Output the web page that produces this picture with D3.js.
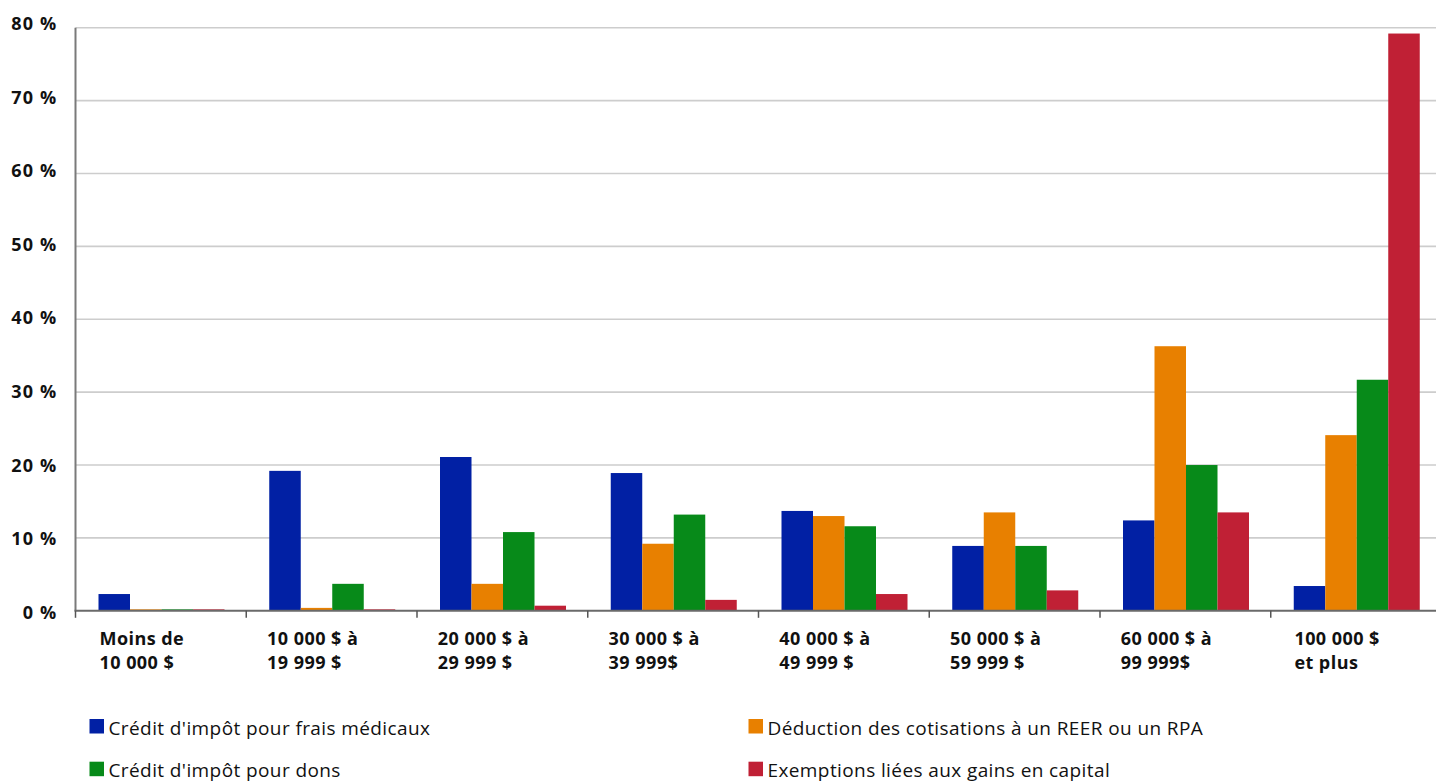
<!DOCTYPE html>
<html>
<head>
<meta charset="utf-8">
<script src="https://cdn.jsdelivr.net/npm/d3@7"></script>
<style>
  body { margin: 0; background: #ffffff; }
  svg { display: block; }
  text { font-family: "Open Sans", "Noto Sans", sans-serif; fill: #111111; }
</style>
</head>
<body>
<svg id="chart" width="1436" height="781"></svg>
<script>
// Income brackets (each label split on two lines)
const categories = [
  ["Moins de", "10 000 $"],
  ["10 000 $ à", "19 999 $"],
  ["20 000 $ à", "29 999 $"],
  ["30 000 $ à", "39 999$"],
  ["40 000 $ à", "49 999 $"],
  ["50 000 $ à", "59 999 $"],
  ["60 000 $ à", "99 999$"],
  ["100 000 $", "et plus"]
];

// Series names
const seriesNames = [
  "Crédit d'impôt pour frais médicaux",
  "Déduction des cotisations à un REER ou un RPA",
  "Crédit d'impôt pour dons",
  "Exemptions liées aux gains en capital"
];

// Share of each tax measure by income bracket (%)
const medicalCredit   = [2.3, 19.2, 21.1, 18.9, 13.7, 8.9, 12.4, 3.4];
const rrspDeduction   = [0.2, 0.4, 3.7, 9.2, 13.0, 13.5, 36.3, 24.1];
const donationCredit  = [0.2, 3.7, 10.8, 13.2, 11.6, 8.9, 20.0, 31.7];
const capitalGainsEx  = [0.2, 0.2, 0.7, 1.5, 2.3, 2.8, 13.5, 79.2];

const yTicks = [0, 10, 20, 30, 40, 50, 60, 70, 80];

const seriesColors = ["#0120a4", "#e88000", "#078a19", "#c02035"];

const seriesValues = [medicalCredit, rrspDeduction, donationCredit, capitalGainsEx];
const catKeys = categories.map(c => c.join(" "));

const rows = catKeys.map((k, i) => ({
  key: k,
  lines: categories[i],
  values: seriesNames.map((s, j) => ({ series: s, value: seriesValues[j][i], color: seriesColors[j] }))
}));

const W = 1436, H = 781;
const plotLeft = 75.5, plotRight = 1441.5, plotTop = 27.7, plotBottom = 610.8;

const svg = d3.select("#chart");

const x0 = d3.scaleBand().domain(catKeys).range([plotLeft, plotRight]).paddingInner(0).paddingOuter(0);
const x1 = d3.scaleBand().domain(seriesNames).range([23, 149]).padding(0);
const y = d3.scaleLinear().domain([0, 80]).range([plotBottom, plotTop]);
// tick labels sit on a slightly taller scale than the gridlines
const yLabel = d3.scaleLinear().domain([0, 80]).range([612.3, 23.3]);

// Horizontal gridlines
svg.append("g")
  .selectAll("line")
  .data(yTicks.filter(d => d > 0))
  .join("line")
  .attr("x1", plotLeft)
  .attr("x2", W)
  .attr("y1", d => y(d))
  .attr("y2", d => y(d))
  .attr("stroke", "#cdcdcd")
  .attr("stroke-width", 1.6);

// Bars
const groups = svg.append("g")
  .selectAll("g")
  .data(rows)
  .join("g")
  .attr("transform", d => `translate(${x0(d.key)},0)`);

groups.selectAll("rect")
  .data(d => d.values)
  .join("rect")
  .attr("x", d => x1(d.series))
  .attr("width", x1.bandwidth())
  .attr("y", d => y(d.value))
  .attr("height", d => y(0) - y(d.value))
  .attr("fill", d => d.color);

// Y axis with labels
const yAxis = svg.append("g")
  .attr("transform", `translate(${plotLeft},0)`)
  .call(d3.axisLeft(y).tickValues(yTicks).tickSize(0).tickPadding(18)
    .tickFormat(d => d + "\u00a0%"));
yAxis.select(".domain").remove();
yAxis.selectAll("text")
  .attr("font-size", 18)
  .attr("font-weight", 700)
  .attr("letter-spacing", 1.2)
  .attr("fill", "#111")
  .attr("dy", "0.34em")
  .attr("y", d => yLabel(d) - y(d))
  .style("font-family", "'Open Sans', sans-serif");

// Vertical axis line
svg.append("line")
  .attr("x1", plotLeft).attr("x2", plotLeft)
  .attr("y1", y(80)).attr("y2", y(0))
  .attr("stroke", "#7a7a7a").attr("stroke-width", 2);

// Baseline
svg.append("line")
  .attr("x1", plotLeft - 1).attr("x2", W)
  .attr("y1", y(0)).attr("y2", y(0))
  .attr("stroke", "#6a6a6a").attr("stroke-width", 2);

// Category boundary ticks
const tickXs = catKeys.map(k => x0(k));
svg.append("g")
  .selectAll("line")
  .data(tickXs)
  .join("line")
  .attr("x1", d => d).attr("x2", d => d)
  .attr("y1", y(0)).attr("y2", y(0) + 7)
  .attr("stroke", "#555").attr("stroke-width", 1.5);

// Category labels, two lines, left-aligned block centred under each group
const catLabels = svg.append("g")
  .selectAll("text")
  .data(rows)
  .join("text")
  .attr("font-size", 18)
  .attr("font-weight", 700)
  .attr("letter-spacing", 0.45)
  .attr("y", 645);

catLabels.selectAll("tspan")
  .data(d => d.lines)
  .join("tspan")
  .attr("dy", (d, i) => i === 0 ? 0 : 24)
  .text(d => d);

catLabels.each(function (d) {
  const spans = d3.select(this).selectAll("tspan").nodes();
  const w = d3.max(spans, n => n.getComputedTextLength());
  const lx = x0(d.key) + x0.bandwidth() / 2 - w / 2 - 19;
  d3.select(this).selectAll("tspan").attr("x", lx);
});

// Legend (two columns, two rows)
const legendPos = [[89.5, 719], [748.5, 719], [89.5, 761.7], [748.5, 761.7]];
const legend = svg.append("g")
  .selectAll("g")
  .data(seriesNames.map((s, i) => ({ name: s, color: seriesColors[i], pos: legendPos[i] })))
  .join("g")
  .attr("transform", d => `translate(${d.pos[0]},${d.pos[1]})`);

legend.append("rect")
  .attr("width", 14.5)
  .attr("height", 14.5)
  .attr("fill", d => d.color);

legend.append("text")
  .attr("x", 19)
  .attr("y", 15.5)
  .attr("font-size", 19)
  .attr("font-weight", 400)
  .attr("letter-spacing", 0.4)
  .text(d => d.name);
</script>
</body>
</html>
